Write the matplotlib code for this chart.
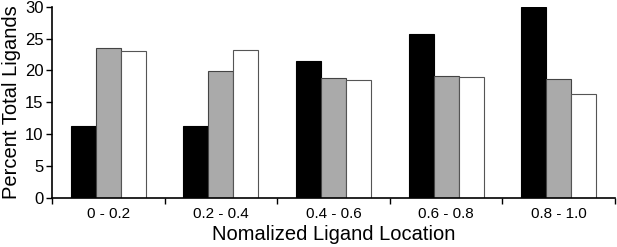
import matplotlib.pyplot as plt
import numpy as np

plt.rcParams['font.family'] = ['Liberation Sans', 'DejaVu Sans']

groups = ['0 - 0.2', '0.2 - 0.4', '0.4 - 0.6', '0.6 - 0.8', '0.8 - 1.0']
black_vals = [11.3, 11.3, 21.5, 25.7, 30.0]
gray_vals = [23.5, 19.9, 18.8, 19.2, 18.6]
white_vals = [23.1, 23.2, 18.5, 18.9, 16.3]

fig = plt.figure(figsize=(6.17, 2.47), dpi=100)
ax = fig.add_axes([52 / 617, 49.5 / 247, 563 / 617, 190.5 / 247])

x = np.arange(len(groups))
w = 0.222
ax.bar(x - w, black_vals, w, color='black', edgecolor='black', linewidth=0.8)
ax.bar(x, gray_vals, w, color='#aaaaaa', edgecolor='#444444', linewidth=0.8)
ax.bar(x + w, white_vals, w, color='white', edgecolor='#555555', linewidth=0.8)

ax.set_xlim(-0.5, len(groups) - 0.5)
ax.set_ylim(0, 30)
ax.set_yticks(range(0, 31, 5))
ax.tick_params(axis='y', labelsize=12, length=4, width=1, direction='out', pad=2)
ax.set_xticks(x)
ax.set_xticklabels(groups, fontsize=11)
ax.tick_params(axis='x', length=0, pad=7)
ax.set_xticks(np.arange(len(groups) + 1) - 0.5, minor=True)
ax.tick_params(axis='x', which='minor', length=4, width=1, direction='out')

for s in ['top', 'right']:
    ax.spines[s].set_visible(False)
for s in ['left', 'bottom']:
    ax.spines[s].set_linewidth(1.2)

ax.set_xlabel('Nomalized Ligand Location', fontsize=14.5, labelpad=3)
ax.set_ylabel('Percent Total Ligands', fontsize=14.5, labelpad=3)

fig.savefig('out.png', dpi=100)
